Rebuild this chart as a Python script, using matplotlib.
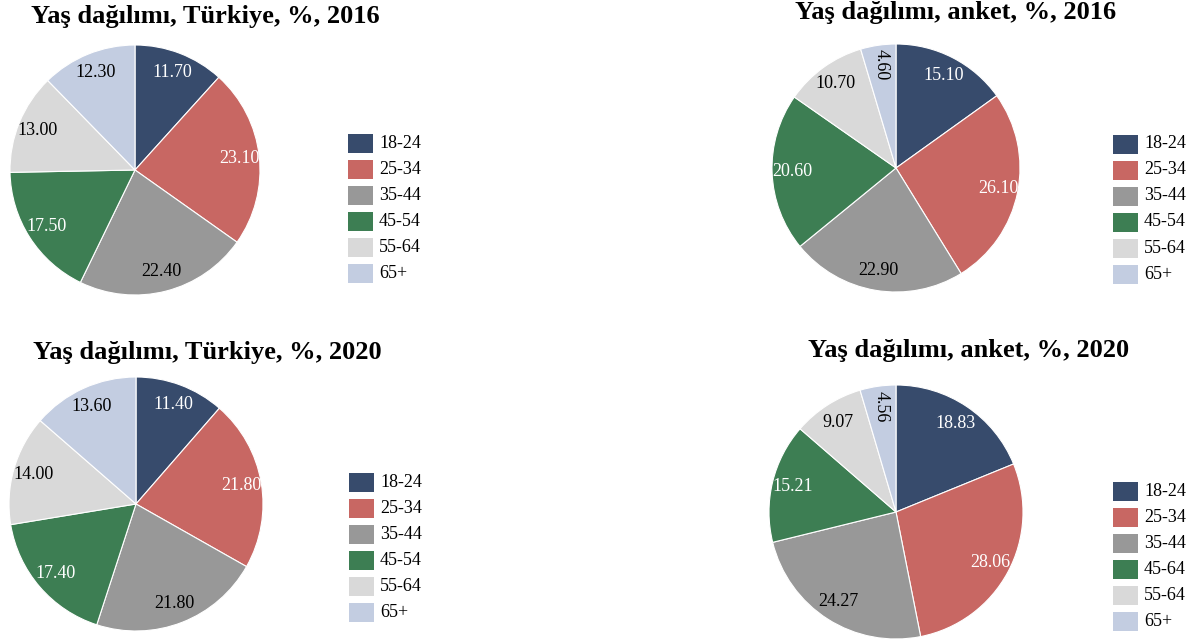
import matplotlib.pyplot as plt
from matplotlib.patches import Rectangle
import numpy as np

plt.rcParams['font.family'] = ['Liberation Serif', 'DejaVu Serif']

W, H = 1201, 644

colors = ['#374b6c', '#c86763', '#989898', '#3d7e53', '#d9d9d9', '#c3cde1']
text_colors = ['white', 'white', 'black', 'white', 'black', 'black']

labels = ['18-24', '25-34', '35-44', '45-54', '55-64', '65+']
labels_typo = ['18-24', '25-34', '35-44', '45-64', '55-64', '65+']

tr_2016 = [11.70, 23.10, 22.40, 17.50, 13.00, 12.30]
an_2016 = [15.10, 26.10, 22.90, 20.60, 10.70, 4.60]
tr_2020 = [11.40, 21.80, 21.80, 17.40, 14.00, 13.60]
an_2020 = [18.83, 28.06, 24.27, 15.21, 9.07, 4.56]

titles = ['Yaş dağılımı, Türkiye, %, 2016', 'Yaş dağılımı, anket, %, 2016',
          'Yaş dağılımı, Türkiye, %, 2020', 'Yaş dağılımı, anket, %, 2020']

# layout in pixels: pie center x, y, radius, title center x, y, legend x, first row y
panels = [
    (tr_2016, labels, 135, 170, 125, 205, 17, 348, 143.5),
    (an_2016, labels, 896, 168, 124, 956, 13, 1113, 144),
    (tr_2020, labels, 136, 504, 127, 207, 352, 349, 482.5),
    (an_2020, labels_typo, 896, 512, 127, 969, 350, 1113, 491.5),
]

fig = plt.figure(figsize=(W / 100, H / 100), dpi=100)

for (vals, labs, cx, cy, r, tx, ty, lx, ly), title in zip(panels, titles):
    ax = fig.add_axes([(cx - r) / W, 1 - (cy + r) / H, 2 * r / W, 2 * r / H])
    wedges, _ = ax.pie(vals, colors=colors, startangle=90, counterclock=False,
                       wedgeprops=dict(edgecolor='white', linewidth=0.8))
    ax.set_xlim(-1, 1)
    ax.set_ylim(-1, 1)
    ax.axis('off')
    for w, v, tc in zip(wedges, vals, text_colors):
        ang = np.deg2rad((w.theta1 + w.theta2) / 2)
        rot = -90 if v < 5 else 0
        ax.text(0.84 * np.cos(ang), 0.84 * np.sin(ang), f'{v:.2f}',
                ha='center', va='center', fontsize=13, color=tc, rotation=rot)

    fig.text(tx / W, 1 - ty / H, title, ha='center', va='center',
             fontsize=19, fontweight='bold')

    for i, (lab, c) in enumerate(zip(labs, colors)):
        yc = ly + i * 26
        fig.add_artist(Rectangle((lx / W, 1 - (yc + 9.5) / H), 25 / W, 19 / H,
                                 transform=fig.transFigure, facecolor=c,
                                 edgecolor='none'))
        fig.text((lx + 31) / W, 1 - yc / H, lab, ha='left', va='center',
                 fontsize=13)

fig.savefig('out.png', dpi=100)
